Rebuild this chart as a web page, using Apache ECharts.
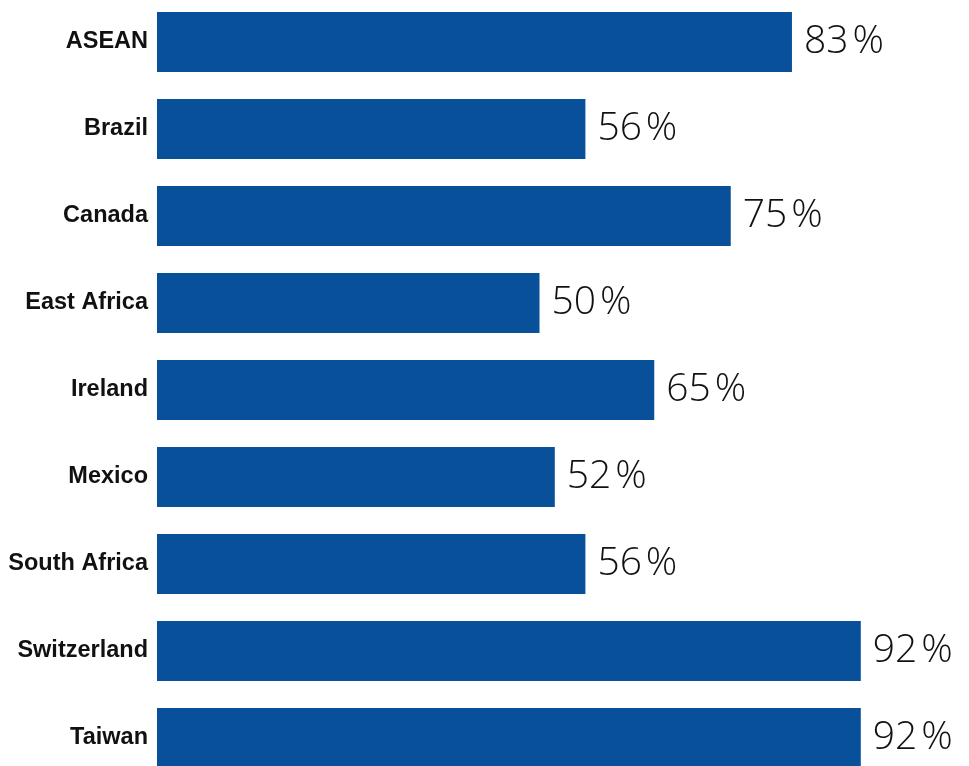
<!DOCTYPE html>
<html>
<head>
<meta charset="utf-8">
<script src="https://cdn.jsdelivr.net/npm/echarts@6/dist/echarts.min.js"></script>
<style>html,body{margin:0;padding:0;background:#fff}#c{width:969px;height:766px}</style>
</head>
<body>
<div id="c"></div>
<script>
const categories = ["ASEAN", "Brazil", "Canada", "East Africa", "Ireland", "Mexico", "South Africa", "Switzerland", "Taiwan"];
const values = [83, 56, 75, 50, 65, 52, 56, 92, 92];

const chart = echarts.init(document.getElementById('c'), null, {renderer: 'canvas'});
chart.setOption({
  animation: false,
  backgroundColor: '#ffffff',
  grid: {left: 157, width: 765, top: -1.5, height: 783, containLabel: false, outerBoundsMode: 'none'},
  xAxis: {
    type: 'value', min: 0, max: 100, show: false
  },
  yAxis: {
    type: 'category', data: categories, inverse: true,
    axisLine: {show: false}, axisTick: {show: false},
    axisLabel: {
      margin: 9, color: '#111111', fontFamily: 'Liberation Sans, Arial, sans-serif',
      fontWeight: 'bold', fontSize: 23.5, padding: [3, 0, 0, 0]
    }
  },
  series: [{
    type: 'bar', data: values, barCategoryGap: '31%',
    itemStyle: {color: '#08519a'},
    label: {
      show: true, position: 'right', distance: 12,
      formatter: p => p.value + '\u200a%',
      fontFamily: '"Open Sans", sans-serif', fontWeight: 300, fontSize: 39, color: '#111111'
    }
  }]
});
</script>
</body>
</html>
